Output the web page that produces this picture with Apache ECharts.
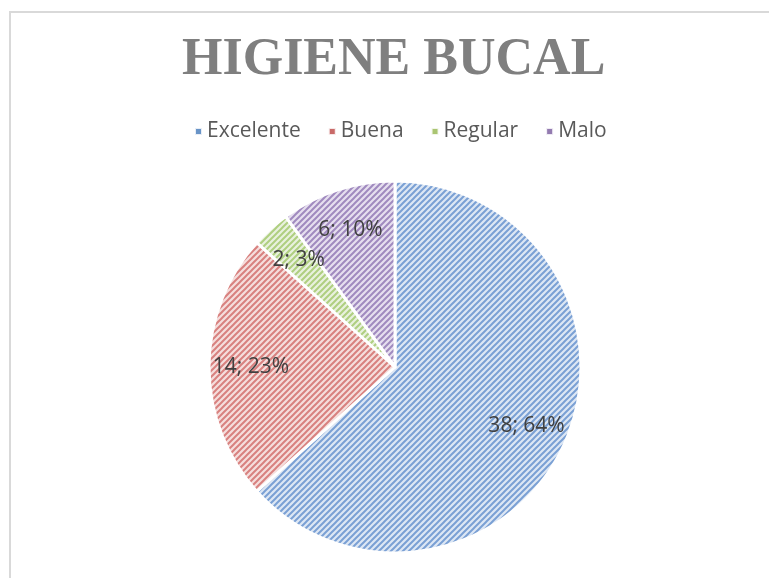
<!DOCTYPE html>
<html>
<head>
<meta charset="utf-8">
<script src="https://cdn.jsdelivr.net/npm/echarts@6/dist/echarts.min.js"></script>
<style>
  html, body { margin: 0; padding: 0; background: #fff; }
  #frame {
    position: absolute; left: 9px; top: 11px; width: 800px; height: 600px;
    border-left: 2px solid #d9d9d9; border-top: 2px solid #d9d9d9;
  }
  #main { position: absolute; left: 0; top: 0; width: 769px; height: 578px; }
</style>
</head>
<body>
<div id="frame"></div>
<div id="main"></div>
<script>
const categories = ['Excelente', 'Buena', 'Regular', 'Malo']
const values = [38, 14, 2, 6]
// percentages as printed on the chart
const percents = [64, 23, 3, 10]
const baseColors = ['#4f81bd', '#c0504d', '#9bbb59', '#8064a2']
const lightColors = ['#dde7f4', '#f5dedd', '#e9f1de', '#e6dfef']
const stripeColors = ['#7aa0d4', '#d8817f', '#afcf80', '#a08abf']

// diagonal stripe tile, like the Excel "wide upward diagonal" fill
function stripes(bg, fg) {
  const c = document.createElement('canvas')
  c.width = 6
  c.height = 6
  const ctx = c.getContext('2d')
  ctx.fillStyle = bg
  ctx.fillRect(0, 0, 6, 6)
  ctx.strokeStyle = fg
  ctx.lineWidth = 2
  ctx.beginPath()
  ctx.moveTo(0, 6); ctx.lineTo(6, 0)
  ctx.moveTo(-1, 1); ctx.lineTo(1, -1)
  ctx.moveTo(5, 7); ctx.lineTo(7, 5)
  ctx.stroke()
  return c
}

const chart = echarts.init(document.getElementById('main'))

const pieData = categories.map((name, i) => ({
  name,
  value: values[i],
  itemStyle: { color: { image: stripes(lightColors[i], stripeColors[i]), repeat: 'repeat' } }
}))

const option = {
  animation: false,
  title: {
    text: 'HIGIENE BUCAL',
    left: 177,
    top: 30,
    textStyle: {
      fontFamily: '"Liberation Serif", "DejaVu Serif", serif',
      fontWeight: 'bold',
      fontSize: 52,
      color: '#7f7f7f'
    }
  },
  legend: {
    top: 116,
    left: 189,
    icon: 'rect',
    itemWidth: 7,
    itemHeight: 7,
    itemGap: 27,
    data: categories.map((name, i) => ({ name, itemStyle: { color: baseColors[i], opacity: 0.85 } })),
    textStyle: { fontFamily: '"Open Sans", sans-serif', fontSize: 21, color: '#595959' }
  },
  series: [
    {
      type: 'pie',
      center: [395, 367],
      radius: 186,
      startAngle: 90,
      clockwise: true,
      silent: true,
      itemStyle: { borderColor: '#fff', borderWidth: 3 },
      label: { show: false },
      labelLine: { show: false },
      data: pieData
    },
    {
      // transparent ring only used to place the labels further out
      type: 'pie',
      center: [395, 367],
      radius: [96, 186],
      startAngle: 90,
      silent: true,
      itemStyle: { color: 'rgba(0,0,0,0)' },
      label: {
        show: true,
        position: 'inside',
        formatter: p => p.value + '; ' + percents[p.dataIndex] + '%',
        fontFamily: '"Open Sans", sans-serif',
        fontSize: 21,
        color: '#404040'
      },
      labelLine: { show: false },
      data: categories.map((name, i) => ({ name, value: values[i] }))
    }
  ]
}

chart.setOption(option)
</script>
</body>
</html>
